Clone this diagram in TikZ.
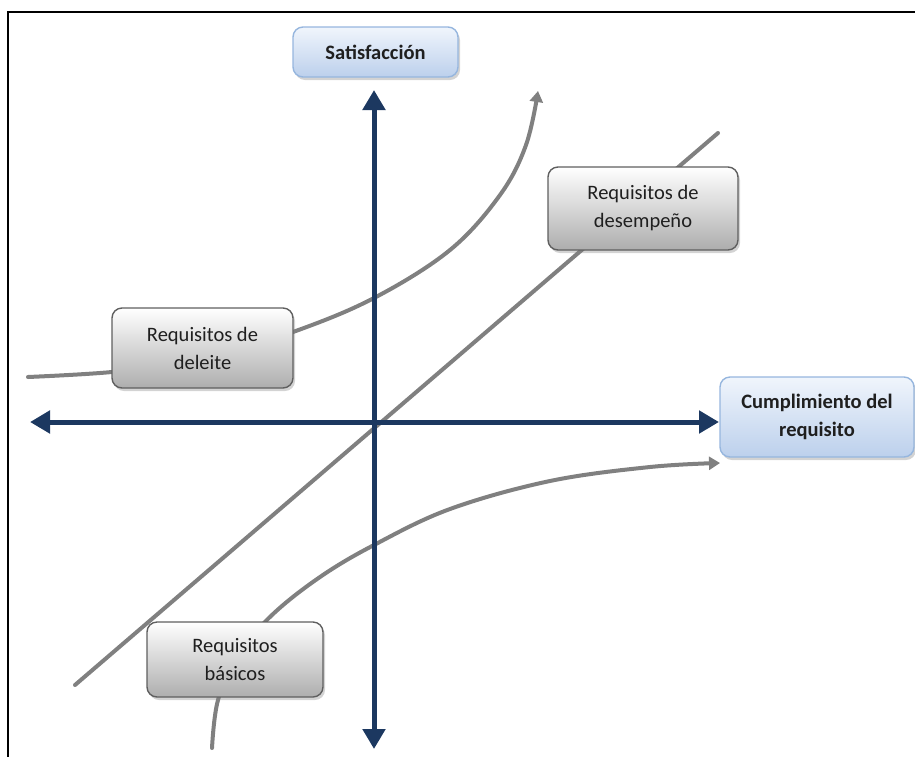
\documentclass[tikz,border=0pt]{standalone}
\usepackage{fontspec}
\setmainfont{Carlito}
\usepackage{xcolor}
\usepackage{tikz}
\usetikzlibrary{arrows.meta,shadows}

\definecolor{axisnavy}{RGB}{28,56,96}
\definecolor{curvegray}{RGB}{128,128,128}
\definecolor{boxline}{RGB}{95,95,95}
\definecolor{blueline}{RGB}{150,182,222}
\definecolor{bluetop}{RGB}{240,245,252}
\definecolor{bluebot}{RGB}{188,208,236}

\begin{document}
\begin{tikzpicture}[
  x=1pt, y=-1pt,
  graybox/.style={draw=boxline, line width=1.4pt, rounded corners=10pt, align=center,
    top color=white, bottom color=black!32, text=black!88,
    font=\fontsize{20.5}{28}\selectfont, inner sep=0pt,
    drop shadow={shadow xshift=2pt, shadow yshift=-3pt, opacity=0.35}},
  bluebox/.style={draw=blueline, line width=1.4pt, rounded corners=10pt, align=center,
    top color=bluetop, bottom color=bluebot, text=black!88,
    font=\fontsize{20.5}{28}\selectfont\bfseries, inner sep=0pt,
    drop shadow={shadow xshift=2pt, shadow yshift=-3pt, opacity=0.35}},
  axis/.style={axisnavy, line width=5pt, {Triangle[width=22pt,length=20pt]}-{Triangle[width=22pt,length=20pt]}},
  curve/.style={curvegray, line width=4pt, line cap=round},
  curvearr/.style={curve, -{Triangle[width=13pt,length=11pt]}}
]
  \useasboundingbox (0,0) rectangle (915,756);
  % frame
  \draw[line width=2pt, line cap=rect] (8,756) -- (8,12) -- (915,12);

  % axes ends
  \coordinate (origin) at (374,422);
  \coordinate (ytop) at (374,90);
  \coordinate (ybot) at (374,749);
  \coordinate (xleft) at (30,422);
  \coordinate (xright) at (719,422);

  % curves (behind the boxes)
  \draw[curve] (75,685) -- (718,133);
  \draw[curvearr] plot[smooth, tension=0.6] coordinates
    {(28,377) (112,372) (200,361) (293,332) (374,298) (450,250) (500,195) (526,145) (538,91)};
  \draw[curvearr] plot[smooth, tension=0.6] coordinates
    {(212,748) (218,700) (238,655) (272,615) (320,577) (374,545) (450,509) (550,481) (650,467) (720,463)};

  \draw[axis] (ybot) -- (ytop);
  \draw[axis] (xleft) -- (xright);

  % boxes
  \node[bluebox, minimum width=165pt, minimum height=50pt] (satis) at (375.5,52) {Satisfacción};
  \node[bluebox, minimum width=194pt, minimum height=80pt] (cumpl) at (817,417) {Cumplimiento del\\requisito};
  \node[graybox, minimum width=190pt, minimum height=83pt] (desem) at (643,208.5) {Requisitos de\\desempeño};
  \node[graybox, minimum width=181pt, minimum height=80pt] (delei) at (202.5,348) {Requisitos de\\deleite};
  \node[graybox, minimum width=176pt, minimum height=75pt] (basic) at (235,659.5) {Requisitos\\básicos};
\end{tikzpicture}
\end{document}
